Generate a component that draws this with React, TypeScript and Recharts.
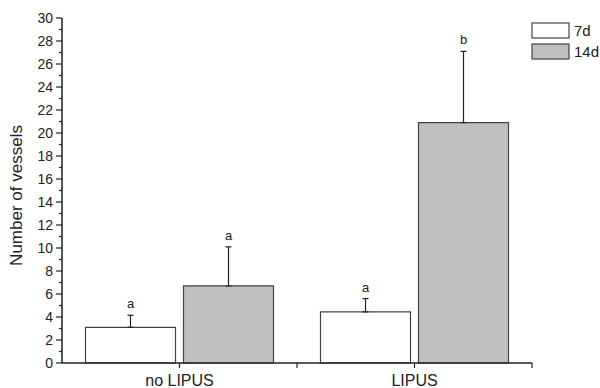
import { Bar, BarChart, ErrorBar, Legend, XAxis, YAxis } from 'recharts';

const groups = ['no LIPUS', 'LIPUS'];
const vessels7d = [3.1, 4.45];
const vessels14d = [6.7, 20.9];
const sd7d = [1.05, 1.15];
const sd14d = [3.4, 6.2];
const letters7d = ['a', 'a'];
const letters14d = ['a', 'b'];
const yTicks = Array.from({ length: 31 }, (_, i) => i);

const FONT = '"Liberation Sans", Arial, sans-serif';
const INK = '#222';

const chartData = groups.map((g, i) => ({
  group: g,
  d7: vessels7d[i],
  d14: vessels14d[i],
  e7: [0, sd7d[i]],
  e14: [0, sd14d[i]],
}));

const W = 600;
const H = 388;
const margin = { top: 18, right: 68, bottom: 0, left: 0 };
const yAxisW = 62;
const plotW = W - margin.left - margin.right - yAxisW;
const halfBand = plotW / groups.length / 2;

function YTick({ x, y, payload }: any) {
  const major = payload.value % 2 === 0;
  return (
    <g>
      <line x1={x - (major ? 6 : 3)} x2={x} y1={y} y2={y} stroke={INK} strokeWidth={1.2} />
      {major && (
        <text x={x - 9} y={y} dy={5} textAnchor="end" fontSize={14} fill={INK} fontFamily={FONT}>
          {payload.value}
        </text>
      )}
    </g>
  );
}

function XTick({ x, y, payload }: any) {
  return (
    <g>
      <line x1={x} x2={x} y1={y} y2={y + 5} stroke={INK} strokeWidth={1.2} />
      <line x1={x + halfBand} x2={x + halfBand} y1={y} y2={y + 5} stroke={INK} strokeWidth={1.2} />
      <text x={x} y={y + 23} textAnchor="middle" fontSize={16} fill={INK} fontFamily={FONT}>
        {payload.value}
      </text>
    </g>
  );
}

function letterLabel(errs: number[], letters: string[]) {
  return (p: any) => {
    const { x, y, width, height, value, index } = p;
    const pxPerUnit = value ? height / value : 0;
    const top = y - errs[index] * pxPerUnit;
    return (
      <text x={x + width / 2} y={top - 7} textAnchor="middle" fontSize={13} fill={INK} fontFamily={FONT}>
        {letters[index]}
      </text>
    );
  };
}

function LegendBox() {
  const items = [
    { name: '7d', fill: '#ffffff' },
    { name: '14d', fill: '#c0c0c0' },
  ];
  return (
    <svg width={70} height={45}>
      {items.map((it, i) => (
        <g key={it.name}>
          <rect x={1} y={1 + i * 21} width={37} height={15} fill={it.fill} stroke="#444" strokeWidth={1.2} />
          <text x={43} y={14 + i * 21} fontSize={15} fill={INK} fontFamily={FONT}>
            {it.name}
          </text>
        </g>
      ))}
    </svg>
  );
}

export default function App() {
  return (
    <div style={{ position: 'absolute', left: 0, top: 0, background: '#fff' }}>
      <BarChart width={W} height={H} data={chartData} margin={margin} barGap={8} barCategoryGap="10%">
        <XAxis
          dataKey="group"
          height={25}
          tick={<XTick />}
          tickLine={false}
          tickSize={0}
          tickMargin={0}
          axisLine={{ stroke: INK, strokeWidth: 1.5 }}
          interval={0}
        />
        <YAxis
          width={yAxisW}
          domain={[0, 30]}
          ticks={yTicks}
          interval={0}
          tick={<YTick />}
          tickLine={false}
          tickSize={0}
          tickMargin={0}
          axisLine={{ stroke: INK, strokeWidth: 1.5 }}
          label={{
            value: 'Number of vessels',
            angle: -90,
            position: 'insideLeft',
            offset: 16,
            dy: 5,
            style: { textAnchor: 'middle', fontSize: 17, fill: INK, fontFamily: FONT },
          }}
        />
        <Legend
          layout="vertical"
          align="center"
          verticalAlign="middle"
          content={<LegendBox />}
          wrapperStyle={{ position: 'absolute', left: 531, top: 22, width: 70 }}
        />
        <Bar dataKey="d7" name="7d" fill="#ffffff" stroke="#444" strokeWidth={1.2} isAnimationActive={false} label={letterLabel(sd7d, letters7d)}>
          <ErrorBar dataKey="e7" width={3} stroke={INK} strokeWidth={1.2} direction="y" />
        </Bar>
        <Bar dataKey="d14" name="14d" fill="#c0c0c0" stroke="#444" strokeWidth={1.2} isAnimationActive={false} label={letterLabel(sd14d, letters14d)}>
          <ErrorBar dataKey="e14" width={3} stroke={INK} strokeWidth={1.2} direction="y" />
        </Bar>
      </BarChart>
    </div>
  );
}
